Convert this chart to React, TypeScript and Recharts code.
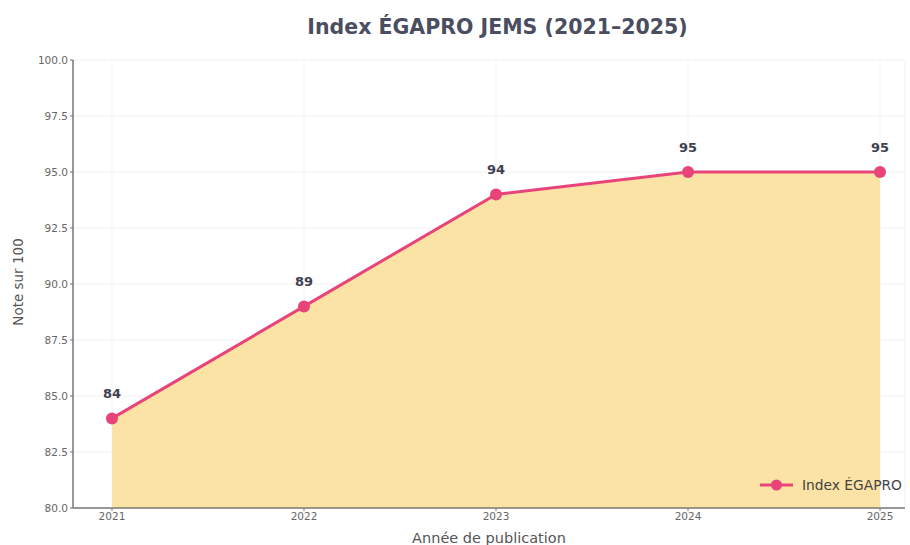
import React from "react";
import { ComposedChart, Area, Line, XAxis, YAxis, CartesianGrid, Label, LabelList } from "recharts";

const years = [2021, 2022, 2023, 2024, 2025];
const scores = [84, 89, 94, 95, 95];
const yTicks = [80, 82.5, 85, 87.5, 90, 92.5, 95, 97.5, 100];

const data = years.map((y, i) => ({ year: y, score: scores[i] }));

const PINK = "#e9447a";
const FONT = "'DejaVu Sans', sans-serif";

const PointLabel = (props: any) => {
  const { x, y, value } = props;
  return (
    <text x={x} y={y - 20} textAnchor="middle" fontFamily={FONT} fontSize={13} fontWeight="bold" fill="#3d4150">
      {value}
    </text>
  );
};

export default function App() {
  return (
    <div style={{ position: "absolute", left: 0, top: 0, width: 910, height: 545, background: "#fff" }}>
      <div
        style={{
          position: "absolute",
          left: 0,
          top: 15,
          width: 995,
          textAlign: "center",
          fontFamily: FONT,
          fontWeight: "bold",
          fontSize: 20.5,
          color: "#4a4e60",
        }}
      >
        Index ÉGAPRO JEMS (2021–2025)
      </div>
      <ComposedChart width={910} height={545} data={data} margin={{ top: 60, right: 5, bottom: 0, left: 0 }}>
        <CartesianGrid stroke="#f0f0f0" strokeWidth={0.8} />
        <XAxis
          dataKey="year"
          type="number"
          domain={[2020.797, 2025.13]}
          ticks={years}
          allowDataOverflow
          height={37}
          tick={{ fontSize: 10.5, fill: "#666", fontFamily: FONT }}
          tickLine={{ stroke: "#777" }}
          tickSize={3}
          axisLine={{ stroke: "#777", strokeWidth: 1.5 }}
        >
          <Label
            content={({ viewBox }: any) => {
              const cx = viewBox.x + viewBox.width / 2;
              return (
                <text x={cx} y={543} textAnchor="middle" fontSize={14.5} fill="#555" fontFamily={FONT}>
                  Année de publication
                </text>
              );
            }}
          />
        </XAxis>
        <YAxis
          type="number"
          domain={[80, 100]}
          ticks={yTicks}
          width={73}
          tickFormatter={(v: number) => v.toFixed(1)}
          tick={{ fontSize: 10.5, fill: "#666", fontFamily: FONT }}
          tickLine={{ stroke: "#777" }}
          tickSize={3}
          axisLine={{ stroke: "#777", strokeWidth: 1.5 }}
        >
          <Label
            content={({ viewBox }: any) => {
              const cy = viewBox.y + viewBox.height / 2 - 2;
              return (
                <text
                  x={18}
                  y={cy}
                  transform={`rotate(-90 18 ${cy})`}
                  textAnchor="middle"
                  dominantBaseline="central"
                  fontSize={13.5}
                  fill="#555"
                  fontFamily={FONT}
                >
                  Note sur 100
                </text>
              );
            }}
          />
        </YAxis>
        <Area
          dataKey="score"
          type="linear"
          baseValue={80}
          fill="#fbe3a6"
          fillOpacity={1}
          stroke="none"
          isAnimationActive={false}
        />
        <Line
          dataKey="score"
          type="linear"
          stroke={PINK}
          strokeWidth={3}
          dot={{ r: 6, fill: PINK, stroke: PINK, strokeWidth: 0 }}
          isAnimationActive={false}
        >
          <LabelList dataKey="score" content={PointLabel} />
        </Line>
      </ComposedChart>
      <div
        style={{
          position: "absolute",
          left: 760,
          top: 477,
          display: "flex",
          alignItems: "center",
          fontFamily: FONT,
          fontSize: 13.8,
          color: "#444",
        }}
      >
        <svg width={33} height={14} style={{ marginRight: 9 }}>
          <line x1={0} y1={7} x2={33} y2={7} stroke={PINK} strokeWidth={3} />
          <circle cx={16.5} cy={7} r={5.5} fill={PINK} />
        </svg>
        <span>Index ÉGAPRO</span>
      </div>
    </div>
  );
}
